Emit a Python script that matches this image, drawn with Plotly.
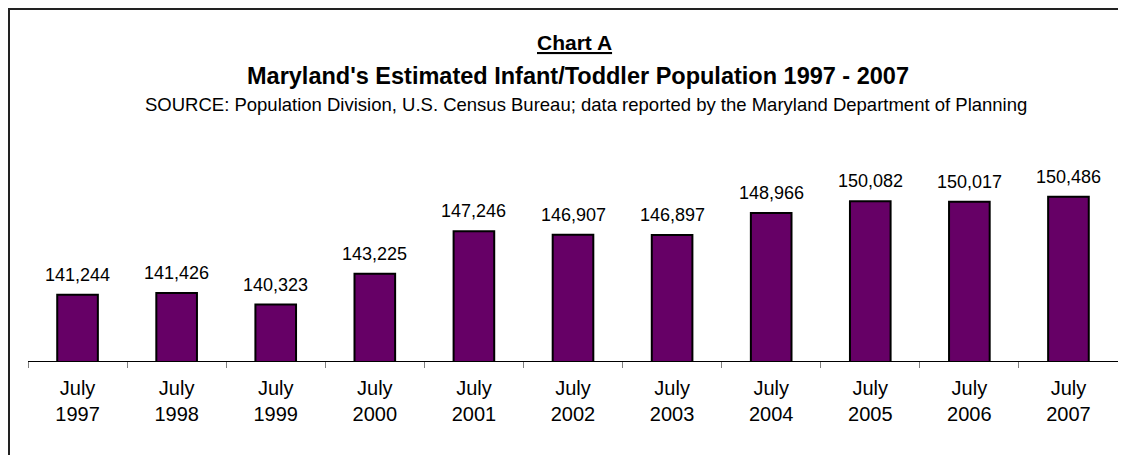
import plotly.graph_objects as go

categories = ["July<br>1997", "July<br>1998", "July<br>1999", "July<br>2000", "July<br>2001",
              "July<br>2002", "July<br>2003", "July<br>2004", "July<br>2005", "July<br>2006",
              "July<br>2007"]
population = [141244, 141426, 140323, 143225, 147246, 146907, 146897, 148966, 150082, 150017, 150486]

chart_label = "Chart A"
title_text = "Maryland's Estimated Infant/Toddler Population 1997 - 2007"
source_text = ("SOURCE: Population Division, U.S. Census Bureau; data reported by the "
               "Maryland Department of Planning")

FONT = "Arial, Liberation Sans, sans-serif"
W, H = 1126, 455
ML, MR, MT, MB = 20, 16, 141, 102
plot_h = H - MT - MB
plot_w = W - ML - MR


def px_to_paper_y(py):
    return (H - MB - py) / plot_h


def px_to_paper_x(px):
    return (px - ML) / plot_w


fig = go.Figure()
fig.add_trace(go.Bar(
    x=categories,
    y=population,
    marker=dict(color="#660066", line=dict(color="#000000", width=2)),
    width=0.41,
    hoverinfo="x+y",
))

annotations = []
for c, v in zip(categories, population):
    annotations.append(dict(
        x=c, y=v, xref="x", yref="y", text=f"{v:,}", showarrow=False,
        yanchor="bottom", yshift=8, font=dict(family=FONT, size=18, color="#000000"),
    ))

annotations += [
    dict(x=px_to_paper_x(566), y=px_to_paper_y(34.5), xref="paper", yref="paper",
         text=f"<b><u>{chart_label}</u></b>",
         showarrow=False, xanchor="center", yanchor="middle",
         font=dict(family=FONT, size=21, color="#000000")),
    dict(x=px_to_paper_x(569.5), y=px_to_paper_y(68), xref="paper", yref="paper",
         text=f"<b>{title_text}</b>",
         showarrow=False, xanchor="center", yanchor="middle",
         font=dict(family=FONT, size=23.5, color="#000000")),
    dict(x=px_to_paper_x(578), y=px_to_paper_y(96), xref="paper", yref="paper", text=source_text,
         showarrow=False, xanchor="center", yanchor="middle",
         font=dict(family=FONT, size=18.5, color="#000000")),
]

fig.update_layout(
    width=W, height=H,
    margin=dict(l=ML, r=MR, t=MT, b=MB),
    paper_bgcolor="#ffffff", plot_bgcolor="#ffffff",
    showlegend=False,
    annotations=annotations,
    shapes=[dict(type="rect", xref="paper", yref="paper",
                 x0=px_to_paper_x(1), x1=px_to_paper_x(1300),
                 y0=px_to_paper_y(700), y1=px_to_paper_y(1),
                 line=dict(color="#222222", width=2), fillcolor="rgba(0,0,0,0)", layer="below")],
    xaxis=dict(
        type="category", tickson="boundaries", ticks="outside", ticklen=6, tickcolor="#808080",
        showline=True, linecolor="#000000", linewidth=1, showgrid=False, zeroline=False,
        tickfont=dict(family=FONT, size=20, color="#000000"), fixedrange=True,
        ticklabelstandoff=9,
    ),
    yaxis=dict(range=[135000, 155000], visible=False, showgrid=False, zeroline=False, fixedrange=True),
    bargap=0.59,
)

fig.write_html("out.html")
